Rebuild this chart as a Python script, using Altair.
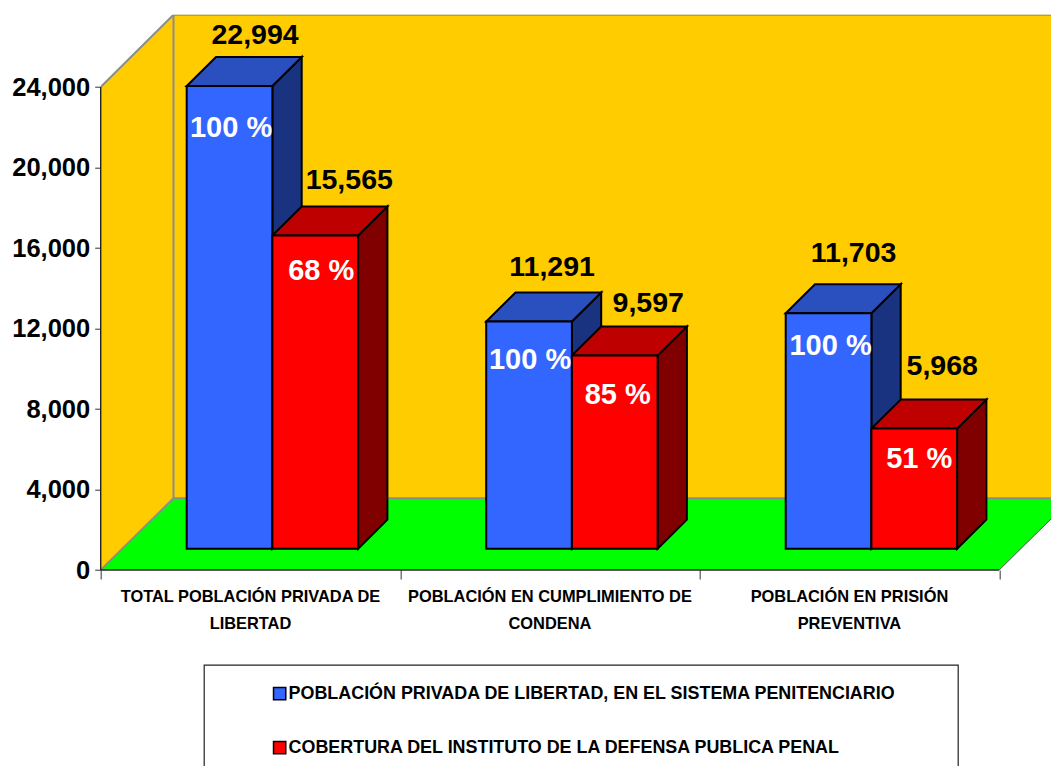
import altair as alt
import pandas as pd

categories = ["TOTAL POBLACIÓN PRIVADA DE\nLIBERTAD",
              "POBLACIÓN EN CUMPLIMIENTO DE\nCONDENA",
              "POBLACIÓN EN PRISIÓN\nPREVENTIVA"]
series = ["POBLACIÓN PRIVADA DE LIBERTAD, EN EL SISTEMA PENITENCIARIO",
          "COBERTURA DEL INSTITUTO DE LA DEFENSA PUBLICA PENAL"]
poblacion = [22994, 11291, 11703]
cobertura = [15565, 9597, 5968]
pct_poblacion = ["100 %", "100 %", "100 %"]
pct_cobertura = ["68 %", "85 %", "51 %"]
y_ticks = [0, 4000, 8000, 12000, 16000, 20000, 24000]

FONT = "Liberation Sans"
PX_PER_CAT = 299.5
PX_PER_UNIT = 483 / 24000
ux = 1 / PX_PER_CAT
uy = 1 / PX_PER_UNIT
PLOT_W, PLOT_H = 950.3, 555.3
X_MAX = PLOT_W * ux
Y_MAX = PLOT_H * uy
WALL_DX, WALL_DY = 72.8 * ux, 71.7 * uy
BAR_START, BAR_W = 86 * ux, 85.7 * ux
DEPTH_X, DEPTH_Y = 29.3 * ux, 29 * uy
BASE = 21.3 * uy

# label nudges from the bar's front-top centre, in px
value_nudge = [[(25.5, 50.7), (23, 54.5), (25, 60)], [(34, 55.5), (33.5, 52.6), (28, 62.6)]]
pct_nudge = [[(1.5, -42), (1, -38.5), (2, -33)], [(6, -36), (3, -39.5), (5, -30)]]

rows = []
for s, (vals, pcts) in enumerate([(poblacion, pct_poblacion), (cobertura, pct_cobertura)]):
    for c, v in enumerate(vals):
        x0 = c + BAR_START + s * BAR_W
        x1 = x0 + BAR_W
        bot, top = BASE, BASE + v
        rows.append(dict(s=s, serie=series[s], bar=f"{s}-{c}", x0=x0, x1=x1, bot=bot, top=top,
                         label=f"{v:,}", pct=pcts[c],
                         lx=(x0 + x1) / 2 + value_nudge[s][c][0] * ux, ly=top + value_nudge[s][c][1] * uy,
                         px=(x0 + x1) / 2 + pct_nudge[s][c][0] * ux, py=top + pct_nudge[s][c][1] * uy))
bars = pd.DataFrame(rows)

side_rows, top_rows = [], []
for r in rows:
    for k in (0, 1):
        side_rows.append(dict(s=r["s"], bar=r["bar"], x=r["x1"] + k * DEPTH_X,
                              a=r["bot"] + k * DEPTH_Y, b=r["top"] + k * DEPTH_Y))
        top_rows.append(dict(s=r["s"], bar=r["bar"], y=r["top"] + k * DEPTH_Y,
                             a=r["x0"] + k * DEPTH_X, b=r["x1"] + k * DEPTH_X))
sides = pd.DataFrame(side_rows)
tops = pd.DataFrame(top_rows)

xs = alt.Scale(domain=[0, X_MAX], nice=False, zero=False)
ys = alt.Scale(domain=[0, Y_MAX], nice=False, zero=False)
x_axis = alt.Axis(values=[0, 1, 2, 3], labels=False, domain=False, grid=False, title=None,
                  ticks=True, tickSize=9, tickColor="#555555", tickWidth=1.2)
y_axis = alt.Axis(values=y_ticks, labelExpr="format(datum.value, ',')", domain=False, grid=False,
                  tickSize=6, title=None, tickColor="#333333", labelFont=FONT,
                  labelFontWeight="bold", labelFontSize=25.5, labelColor="black", labelPadding=5)


def X(f, **k):
    return alt.X(f, type="quantitative", scale=xs, axis=x_axis, **k)


def Y(f, **k):
    return alt.Y(f, type="quantitative", scale=ys, axis=y_axis, stack=None, **k)


GRAY = "#8c8c8c"

# walls and floor
back = pd.DataFrame([dict(a=WALL_DX, b=X_MAX, c=WALL_DY, d=Y_MAX)])
wall_back = alt.Chart(back).mark_rect(color="#FFCC00").encode(x=X("a"), x2="b", y=Y("c"), y2="d")

side_wall_df = pd.DataFrame({"x": [0, WALL_DX], "a": [0, WALL_DY], "b": [24000, Y_MAX]})
wall_side = alt.Chart(side_wall_df).mark_area(color="#FFCC00").encode(x=X("x"), y=Y("a"), y2="b")

floor_df = pd.DataFrame({"y": [0, WALL_DY], "a": [0, WALL_DX], "b": [3, 3 + WALL_DX]})
floor = alt.Chart(floor_df).mark_area(color="#00FF00", orient="horizontal", clip=True).encode(
    y=Y("y"), x=X("a"), x2="b")

frame_segments = [
    ("g", [(0, 24000), (WALL_DX, Y_MAX), (X_MAX, Y_MAX)], GRAY, 2),
    ("v", [(WALL_DX, Y_MAX), (WALL_DX, WALL_DY)], GRAY, 2),
    ("f", [(0, 0), (WALL_DX, WALL_DY), (X_MAX, WALL_DY)], GRAY, 2),
    ("r", [(3, 0), (3 + WALL_DX, WALL_DY)], "#555555", 1),
]
frame_layers = []
for name, pts, col, w in frame_segments:
    d = pd.DataFrame({"x": [p[0] for p in pts], "y": [p[1] for p in pts], "o": range(len(pts))})
    frame_layers.append(alt.Chart(d).mark_line(color=col, strokeWidth=w, clip=True).encode(
        x=X("x"), y=Y("y"), order="o:O"))

axis_y = alt.Chart(pd.DataFrame({"x": [0], "a": [0], "b": [24000]})).mark_rule(
    color="#222222", strokeWidth=1.4).encode(x=X("x"), y=Y("a"), y2="b")
axis_x = alt.Chart(pd.DataFrame({"y": [0], "a": [0], "b": [3]})).mark_rule(
    color="#222222", strokeWidth=1.4).encode(y=Y("y"), x=X("a"), x2="b")


def side_layer(s, col):
    return alt.Chart(sides[sides.s == s]).mark_area(color=col, stroke="black", strokeWidth=2).encode(
        x=X("x"), y=Y("a"), y2="b", detail="bar:N")


def top_layer(s, col):
    return alt.Chart(tops[tops.s == s]).mark_area(color=col, stroke="black", strokeWidth=2,
                                                  orient="horizontal").encode(
        y=Y("y"), x=X("a"), x2="b", detail="bar:N")


front = alt.Chart(bars).mark_rect(stroke="black", strokeWidth=2).encode(
    x=X("x0"), x2="x1", y=Y("bot"), y2="top",
    color=alt.Color("serie:N", scale=alt.Scale(domain=series, range=["#3366FF", "#FF0000"]),
                    legend=alt.Legend(orient="none", legendX=170, legendY=670, title=None,
                                      symbolType="square", symbolSize=150, symbolStrokeColor="black",
                                      symbolStrokeWidth=1.5, symbolOpacity=1, labelFont=FONT,
                                      labelFontWeight="bold", labelFontSize=17.9, labelColor="black",
                                      labelLimit=800, rowPadding=34, labelOffset=0,
                                      values=series)))

value_text = alt.Chart(bars).mark_text(font=FONT, fontWeight="bold", fontSize=28.5, color="black",
                                       baseline="middle").encode(x=X("lx"), y=Y("ly"), text="label:N")
pct_text = alt.Chart(bars).mark_text(font=FONT, fontWeight="bold", fontSize=29, color="white",
                                     baseline="middle").encode(x=X("px"), y=Y("py"), text="pct:N")

cat_df = pd.DataFrame({"x": [i + 0.5 for i in range(3)], "t": categories})
cat_text = alt.Chart(cat_df).mark_text(font=FONT, fontWeight="bold", fontSize=16.4, color="black",
                                       baseline="top", lineBreak="\n", lineHeight=27).encode(
    x=X("x"), y=alt.value(PLOT_H + 19), text="t:N")

legend_box = alt.Chart(pd.DataFrame({"k": [1]})).mark_rect(
    fill="white", stroke="#222222", strokeWidth=1.2).encode(
    x=alt.value(103.5), x2=alt.value(857.5), y=alt.value(650.5), y2=alt.value(800))

chart = alt.layer(
    wall_back, wall_side, floor, *frame_layers, axis_y, axis_x,
    side_layer(0, "#1A3380"), top_layer(0, "#2A50BF"),
    side_layer(1, "#800000"), top_layer(1, "#BF0000"),
    front, value_text, pct_text, cat_text, legend_box,
).properties(
    width=PLOT_W, height=PLOT_H, background="white",
    autosize=alt.AutoSizeParams(type="none"),
    padding={"left": 92.7, "top": 6.7, "right": 0, "bottom": 196},
).configure_view(stroke=None)

chart.save("out.html", embed_options={"renderer": "svg", "actions": False})
